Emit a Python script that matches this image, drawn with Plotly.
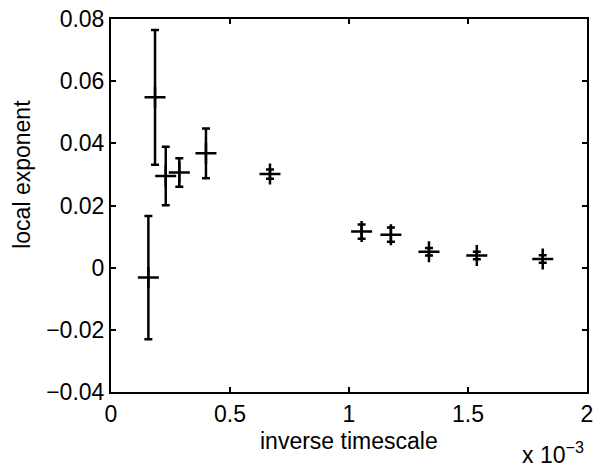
import plotly.graph_objects as go

# data (x in units of 1e-3)
x_vals = [0.157, 0.185, 0.230, 0.287, 0.399, 0.668, 1.053, 1.176, 1.336, 1.537, 1.814]
y_vals = [-0.0032, 0.0548, 0.0295, 0.0306, 0.0368, 0.0301, 0.0116, 0.0106, 0.0051, 0.0039, 0.0028]
y_err = [0.0198, 0.0217, 0.0094, 0.0046, 0.0080, 0.0015, 0.0023, 0.0023, 0.0012, 0.0012, 0.0012]

x_ticks = [0, 0.5, 1, 1.5, 2]
x_ticktext = ["0", "0.5", "1", "1.5", "2"]
y_ticks = [-0.04, -0.02, 0, 0.02, 0.04, 0.06, 0.08]
y_ticktext = ["\u22120.04", "\u22120.02", "0", "0.02", "0.04", "0.06", "0.08"]

font = "Liberation Sans, Arial, Helvetica, sans-serif"
fs = 23

fig = go.Figure()
fig.add_trace(go.Scatter(
    x=x_vals, y=y_vals, mode="markers",
    marker=dict(symbol="cross-thin", size=15, color="black",
                line=dict(color="black", width=2.5)),
    error_y=dict(type="data", array=y_err, visible=True,
                 color="black", thickness=2.5, width=4),
    showlegend=False,
))

axis_common = dict(
    showline=True, linecolor="black", linewidth=2, mirror="ticks",
    ticks="inside", ticklen=5, tickwidth=1.5, tickcolor="black",
    showgrid=False, zeroline=False, automargin=False,
    ticklabeloverflow="allow",
    tickfont=dict(family=font, size=fs, color="black"),
)

fig.update_xaxes(range=[0, 2], tickvals=x_ticks, ticktext=x_ticktext, **axis_common)
fig.update_yaxes(range=[-0.04, 0.08], tickvals=y_ticks, ticktext=y_ticktext, **axis_common)

fig.update_layout(
    width=599, height=468,
    margin=dict(l=111, r=12, t=19, b=76, autoexpand=False),
    paper_bgcolor="white", plot_bgcolor="white",
    font=dict(family=font, size=fs, color="black"),
    annotations=[
        dict(text="inverse timescale", xref="paper", yref="paper",
             x=0.5, y=-0.131, xanchor="center", yanchor="middle",
             showarrow=False, font=dict(size=fs)),
        dict(text="x 10<sup>\u22123</sup>", xref="paper", yref="paper",
             x=0.997, y=-0.163, xanchor="right", yanchor="middle",
             showarrow=False, font=dict(size=fs)),
        dict(text="local exponent", xref="paper", yref="paper",
             x=-0.187, y=0.585, xanchor="center", yanchor="middle",
             textangle=-90, showarrow=False, font=dict(size=fs)),
    ],
)

fig.write_html(
    "out.html",
    config={"displayModeBar": False},
    post_script="document.body.style.margin='0px';document.body.style.overflow='hidden';",
)
